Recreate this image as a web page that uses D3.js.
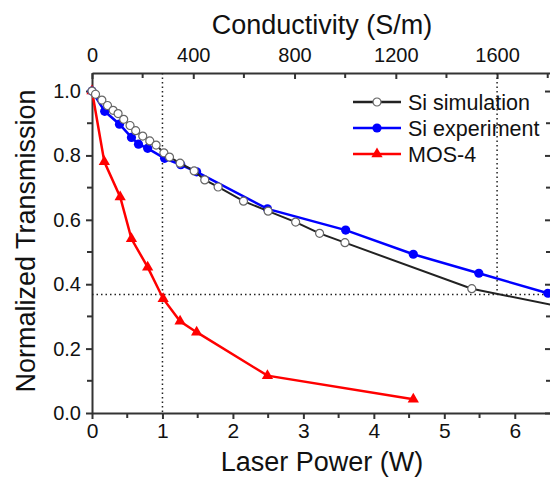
<!DOCTYPE html>
<meta charset="utf-8">
<style>

body {
  margin: 0;
  background: #fff;
}

svg {
  font-family: Arial, "Liberation Sans", sans-serif;
}

.axis path,
.axis line {
  fill: none;
  stroke: #333;
  stroke-width: 2px;
}

.axis text {
  font-size: 20px;
  fill: #111;
}

.guide {
  stroke: #222;
  stroke-width: 1.5px;
  stroke-dasharray: 1.5,3;
}

.title {
  font-size: 27px;
  fill: #111;
}

.legend text {
  font-size: 21.5px;
  fill: #111;
}

</style>
<body>
<svg width="550" height="477"></svg>
</body>

<script src="https://d3js.org/d3.v7.min.js"></script>
<script>

// Si simulation (open circles)
var simPower = [0, 0.05, 0.14, 0.22, 0.30, 0.37, 0.45, 0.54, 0.62, 0.72, 0.82, 0.91, 1.02, 1.10, 1.25, 1.45, 1.60, 1.79, 2.15, 2.50, 2.89, 3.23, 3.59, 5.39, 7.00];
var simTrans = [1.00, 0.99, 0.972, 0.955, 0.94, 0.93, 0.912, 0.893, 0.877, 0.86, 0.845, 0.832, 0.808, 0.795, 0.776, 0.752, 0.724, 0.702, 0.658, 0.627, 0.593, 0.558, 0.529, 0.386, 0.315];

// Si experiment (filled circles)
var expPower = [0, 0.18, 0.39, 0.56, 0.66, 0.79, 1.03, 1.26, 1.485, 2.49, 3.60, 4.56, 5.49, 6.47];
var expTrans = [1.00, 0.937, 0.897, 0.856, 0.835, 0.822, 0.791, 0.771, 0.749, 0.634, 0.568, 0.493, 0.434, 0.372];

// MOS-4 (triangles)
var mosPower = [0, 0.175, 0.40, 0.56, 0.79, 1.01, 1.25, 1.485, 2.49, 4.56];
var mosTrans = [1.00, 0.78, 0.671, 0.541, 0.453, 0.355, 0.285, 0.251, 0.116, 0.043];

var powerTicks = [0, 1, 2, 3, 4, 5, 6];
var condTicks = [0, 400, 800, 1200, 1600];
var transTicks = [0, 0.2, 0.4, 0.6, 0.8, 1.0];

var guidePower = 1;       // vertical dotted line, bottom axis
var guideCond = 1600;     // vertical dotted line, top axis
var guideTrans = 0.368;   // 1/e level

var series = [
  {name: "Si simulation", x: simPower, y: simTrans, color: "#222", marker: "open"},
  {name: "Si experiment", x: expPower, y: expTrans, color: "#0000ff", marker: "dot"},
  {name: "MOS-4", x: mosPower, y: mosTrans, color: "#ff0000", marker: "tri"}
];

var svg = d3.select("svg"),
    pLeft = 92, pRight = 551, pTop = 73, pBottom = 413;

var x = d3.scaleLinear().domain([0, 6.5]).range([pLeft, 550]);
var xTop = d3.scaleLinear().domain([0, 1809]).range([pLeft, 550]);
var y = d3.scaleLinear().domain([0, 1.056]).range([pBottom, pTop]);

// minor ticks
function minor(g, vals, scale, orient, len) {
  g.selectAll(".minor").data(vals).enter().append("line")
      .attr("stroke", "#333").attr("stroke-width", 2)
      .attr("x1", function(d) { return orient == "v" ? scale(d) : 0; })
      .attr("x2", function(d) { return orient == "v" ? scale(d) : len; })
      .attr("y1", function(d) { return orient == "v" ? 0 : scale(d); })
      .attr("y2", function(d) { return orient == "v" ? len : scale(d); });
}

svg.append("g")
    .attr("class", "axis")
    .attr("transform", "translate(0," + pBottom + ")")
    .call(d3.axisBottom(x).tickValues(powerTicks).tickFormat(d3.format("d")).tickSizeInner(6).tickSizeOuter(0).tickPadding(4))
    .call(function(g) { minor(g, [0.5, 1.5, 2.5, 3.5, 4.5, 5.5], x, "v", 5); })
    .selectAll("text").style("font-size", "21px");

svg.append("g")
    .attr("class", "axis")
    .attr("transform", "translate(0," + pTop + ")")
    .call(d3.axisTop(xTop).tickValues(condTicks).tickFormat(d3.format("d")).tickSizeInner(-6).tickSizeOuter(0).tickPadding(11))
    .call(function(g) { minor(g, [200, 600, 1000, 1400, 1800], xTop, "v", 5); });

svg.append("g")
    .attr("class", "axis")
    .attr("transform", "translate(" + pLeft + ",0)")
    .call(d3.axisLeft(y).tickValues(transTicks).tickFormat(d3.format(".1f")).tickSizeInner(6).tickSizeOuter(0).tickPadding(5))
    .call(function(g) { minor(g, [0.1, 0.3, 0.5, 0.7, 0.9], y, "h", -5); });

svg.append("g")
    .attr("class", "axis")
    .attr("transform", "translate(" + pRight + ",0)")
    .call(d3.axisRight(y).tickValues(transTicks).tickFormat("").tickSizeInner(-6).tickSizeOuter(0))
    .call(function(g) { minor(g, [0.1, 0.3, 0.5, 0.7, 0.9], y, "h", -5); });

// dotted guide lines
svg.append("line").attr("class", "guide")
    .attr("x1", x(guidePower)).attr("x2", x(guidePower))
    .attr("y1", pTop).attr("y2", pBottom);
svg.append("line").attr("class", "guide")
    .attr("x1", xTop(guideCond)).attr("x2", xTop(guideCond))
    .attr("y1", pTop).attr("y2", y(guideTrans));
svg.append("line").attr("class", "guide")
    .attr("x1", pLeft).attr("x2", 550)
    .attr("y1", y(guideTrans)).attr("y2", y(guideTrans));

var line = d3.line()
    .x(function(d) { return x(d[0]); })
    .y(function(d) { return y(d[1]); });

var tri = d3.symbol().type(d3.symbolTriangle).size(55);

function drawMarker(sel, s) {
  if (s.marker == "tri") {
    sel.append("path").attr("d", tri).attr("fill", s.color);
  } else if (s.marker == "dot") {
    sel.append("circle").attr("r", 4.6).attr("fill", s.color);
  } else {
    sel.append("circle").attr("r", 4).attr("fill", "#fff")
        .attr("stroke", "#666").attr("stroke-width", 1.2);
  }
}

// draw from last (red) to first so black sits on top where it overlaps
series.slice().reverse().forEach(function(s) {
  var pts = s.x.map(function(v, i) { return [v, s.y[i]]; });
  svg.append("path")
      .datum(pts)
      .attr("fill", "none")
      .attr("stroke", s.color)
      .attr("stroke-width", s.marker == "open" ? 2 : 2.5)
      .attr("d", line);
  svg.append("g").selectAll("g").data(pts).enter().append("g")
      .attr("transform", function(d) { return "translate(" + x(d[0]) + "," + y(d[1]) + ")"; })
      .each(function() { drawMarker(d3.select(this), s); });
});

// legend
var legend = svg.append("g").attr("class", "legend");
series.forEach(function(s, i) {
  var g = legend.append("g").attr("transform", "translate(353," + (102 + i * 26) + ")");
  g.append("line").attr("x1", 0).attr("x2", 48)
      .attr("stroke", s.color).attr("stroke-width", 2.5);
  drawMarker(g.append("g").attr("transform", "translate(24,0)"), s);
  g.append("text").attr("x", 55).attr("y", 7.5).text(s.name);
});

// titles
svg.append("text").attr("class", "title")
    .attr("x", 322).attr("y", 34).attr("text-anchor", "middle")
    .text("Conductivity (S/m)");
svg.append("text").attr("class", "title")
    .attr("x", 322).attr("y", 471).attr("text-anchor", "middle")
    .text("Laser Power (W)");
svg.append("text").attr("class", "title")
    .attr("transform", "translate(35," + ((pTop + pBottom) / 2 - 2) + ") rotate(-90)")
    .attr("text-anchor", "middle")
    .text("Normalized Transmission");

</script>
